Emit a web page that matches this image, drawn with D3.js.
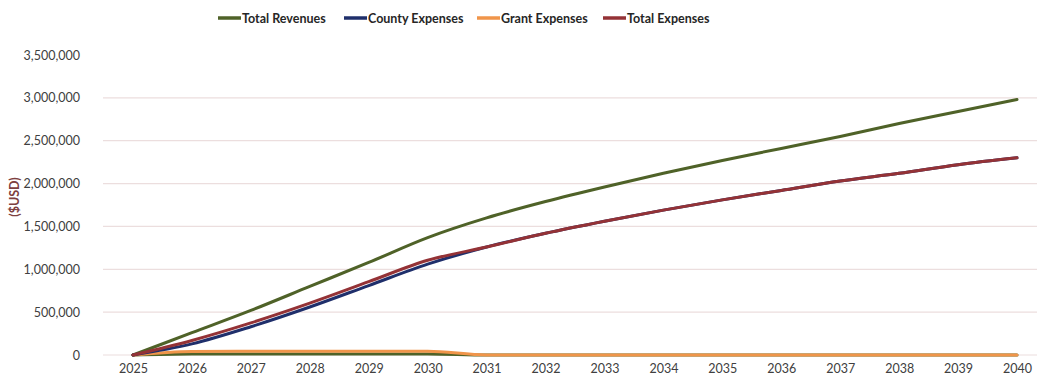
<!DOCTYPE html>
<html>
<head>
<meta charset="utf-8">
<script src="https://cdn.jsdelivr.net/npm/d3@7"></script>
<style>
  html, body { margin: 0; padding: 0; background: #fff; }
  svg { display: block; font-family: Lato, "Open Sans", sans-serif; }
</style>
</head>
<body>
<svg id="chart" width="1037" height="385"></svg>
<script>
// Years on the horizontal axis
const years = [2025, 2026, 2027, 2028, 2029, 2030, 2031, 2032, 2033, 2034, 2035, 2036, 2037, 2038, 2039, 2040];

// Cumulative amounts in USD
const totalRevenues  = [0, 260000, 520000, 800000, 1080000, 1370000, 1600000, 1790000, 1960000, 2120000, 2270000, 2410000, 2550000, 2700000, 2840000, 2980000];
const countyExpenses = [0, 130000, 330000, 560000, 810000, 1060000, 1260000, 1420000, 1560000, 1690000, 1810000, 1920000, 2030000, 2120000, 2220000, 2300000];
const grantExpenses  = [0, 40000, 45000, 45000, 45000, 45000, 0, 0, 0, 0, 0, 0, 0, 0, 0, 0];
const totalExpenses  = countyExpenses.map((v, i) => v + grantExpenses[i]);
const grantRevenues  = [0, 12000, 12000, 12000, 12000, 12000, 0, 0, 0, 0, 0, 0, 0, 0, 0, 0];

const yTicks = [0, 500000, 1000000, 1500000, 2000000, 2500000, 3000000, 3500000];

const series = [
  { name: "Grant Revenues",  values: grantRevenues,  color: "#4f6228", legend: false },
  { name: "Grant Expenses",  values: grantExpenses,  color: "#f0954a", legend: true },
  { name: "Total Revenues",  values: totalRevenues,  color: "#4f6228", legend: true },
  { name: "County Expenses", values: countyExpenses, color: "#1f2f6b", legend: true },
  { name: "Total Expenses",  values: totalExpenses,  color: "#943236", legend: true }
];
const legendOrder = ["Total Revenues", "County Expenses", "Grant Expenses", "Total Expenses"];
const legendX = [218, 344, 477, 603];

const svg = d3.select("#chart");

const x = d3.scaleLinear().domain([2025, 2040]).range([133, 1017]);
const y = d3.scaleLinear().domain([0, 3500000]).range([355, 55]);

// Horizontal gridlines
svg.append("g")
  .selectAll("line")
  .data(yTicks.filter(t => t < 3500000))
  .join("line")
  .attr("x1", 103).attr("x2", 1037)
  .attr("y1", d => y(d)).attr("y2", d => y(d))
  .attr("stroke", "#ecdede").attr("stroke-width", 1.2);

// Y axis labels
const yAxis = d3.axisLeft(y).tickValues(yTicks).tickSize(0).tickPadding(0)
  .tickFormat(d3.format(","));
svg.append("g")
  .attr("transform", "translate(80,0)")
  .call(yAxis)
  .call(g => g.select(".domain").remove())
  .call(g => g.selectAll("text")
    .attr("font-family", "Lato, sans-serif")
    .attr("font-size", 12.5).attr("fill", "#404040"));

// X axis labels
const xAxis = d3.axisBottom(x).tickValues(years).tickSize(0).tickPadding(0)
  .tickFormat(d3.format("d"));
svg.append("g")
  .attr("transform", "translate(0,364)")
  .call(xAxis)
  .call(g => g.select(".domain").remove())
  .call(g => g.selectAll("text")
    .attr("font-family", "Lato, sans-serif")
    .attr("font-size", 12.5).attr("fill", "#404040"));

// Y axis title
svg.append("text")
  .attr("transform", "translate(19,197) rotate(-90)")
  .attr("text-anchor", "middle")
  .attr("font-size", 12.5).attr("font-weight", "bold")
  .attr("fill", "#7d4040")
  .text("($USD)");

// Series lines, gently smoothed
const line = d3.line()
  .x((d, i) => x(years[i]))
  .y(d => y(d))
  .curve(d3.curveMonotoneX);

svg.append("g")
  .selectAll("path")
  .data(series)
  .join("path")
  .attr("d", d => line(d.values))
  .attr("fill", "none")
  .attr("stroke", d => d.color)
  .attr("stroke-width", 3)
  .attr("stroke-linejoin", "round")
  .attr("stroke-linecap", "round");

// Legend
const legend = svg.append("g");
legendOrder.forEach((name, i) => {
  const s = series.find(d => d.name === name);
  const g = legend.append("g").attr("transform", `translate(${legendX[i]},18)`);
  g.append("line")
    .attr("x1", 0).attr("x2", 23).attr("y1", 0).attr("y2", 0)
    .attr("stroke", s.color).attr("stroke-width", 3.5);
  g.append("text")
    .attr("x", 24).attr("y", 4.5)
    .attr("font-size", 12.5).attr("font-weight", "bold")
    .attr("fill", "#262626")
    .text(name);
});
</script>
</body>
</html>
